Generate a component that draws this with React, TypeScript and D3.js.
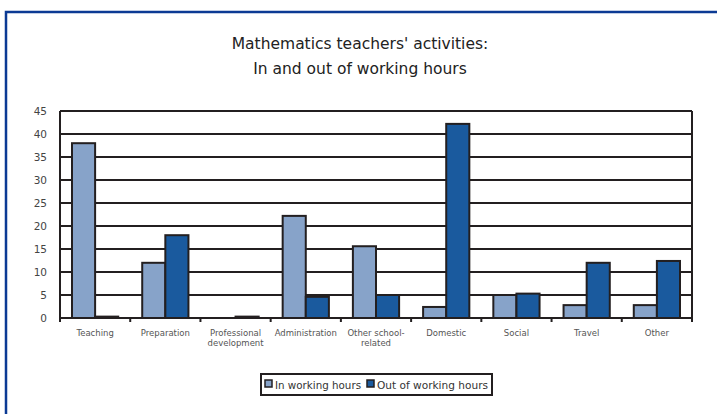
import * as d3 from "d3";
import { useRef, useEffect } from "react";

const categories = [
  ["Teaching"],
  ["Preparation"],
  ["Professional", "development"],
  ["Administration"],
  ["Other school-", "related"],
  ["Domestic"],
  ["Social"],
  ["Travel"],
  ["Other"],
];
const inHours = [38, 12, 0, 22.2, 15.6, 2.4, 5, 2.8, 2.8];
const outHours = [0.3, 18, 0.3, 4.6, 5, 42.2, 5.3, 12, 12.4];
const seriesNames = ["In working hours", "Out of working hours"];
const yTicks = [0, 5, 10, 15, 20, 25, 30, 35, 40, 45];

export default function App() {
  const ref = useRef(null);
  const width = 717;
  const height = 414;
  const colours = ["#87a3c9", "#1a5a9e"];

  useEffect(() => {
    const svg = d3.select(ref.current);
    svg.selectAll("*").remove();

    const left = 60;
    const right = 692;
    const top = 111;
    const bottom = 318;

    // Frame
    svg
      .append("path")
      .attr("d", `M6,${height + 5} V12 H${width + 5}`)
      .attr("fill", "none")
      .attr("stroke", "#0b3a94")
      .attr("stroke-width", 2.5);

    // Title
    const title = svg
      .append("text")
      .attr("text-anchor", "middle")
      .attr("font-family", "'DejaVu Sans', sans-serif")
      .attr("font-size", 15.5)
      .attr("fill", "#222");
    title.append("tspan").attr("x", 360).attr("y", 49).text("Mathematics teachers' activities:");
    title.append("tspan").attr("x", 360).attr("y", 74).text("In and out of working hours");

    // Scales
    const x = d3
      .scaleBand()
      .domain(categories.map((d, i) => String(i)))
      .range([left, right]);
    const pad = 12;
    const xs = d3
      .scaleBand()
      .domain(["0", "1"])
      .range([pad, x.bandwidth() - pad]);
    const y = d3.scaleLinear().domain([0, 45]).range([bottom, top]);

    // Gridlines
    svg
      .append("g")
      .selectAll("line")
      .data(yTicks)
      .join("line")
      .attr("x1", left)
      .attr("x2", right)
      .attr("y1", (d) => y(d))
      .attr("y2", (d) => y(d))
      .attr("stroke", "#231f20")
      .attr("stroke-width", 2);

    // Y labels
    svg
      .append("g")
      .selectAll("text")
      .data(yTicks)
      .join("text")
      .attr("x", 47)
      .attr("y", (d) => y(d) + 4)
      .attr("text-anchor", "end")
      .attr("font-family", "'DejaVu Sans', sans-serif")
      .attr("font-size", 10.5)
      .attr("fill", "#444")
      .text((d) => d);

    // Bars
    const groups = svg
      .append("g")
      .selectAll("g")
      .data(categories.map((c, i) => [inHours[i], outHours[i]]))
      .join("g")
      .attr("transform", (d, i) => `translate(${x(String(i))},0)`);

    groups
      .selectAll("rect")
      .data((d) => d)
      .join("rect")
      .attr("x", (d, i) => xs(String(i)))
      .attr("width", xs.bandwidth())
      .attr("y", (d) => y(d))
      .attr("height", (d) => bottom - y(d))
      .attr("fill", (d, i) => colours[i])
      .attr("stroke", "#231f20")
      .attr("stroke-width", 2);

    // Axes lines
    svg
      .append("line")
      .attr("x1", left)
      .attr("x2", left)
      .attr("y1", top)
      .attr("y2", bottom)
      .attr("stroke", "#231f20")
      .attr("stroke-width", 2);
    svg
      .append("line")
      .attr("x1", right)
      .attr("x2", right)
      .attr("y1", top)
      .attr("y2", bottom + 4)
      .attr("stroke", "#231f20")
      .attr("stroke-width", 2);
    svg
      .append("g")
      .selectAll("line")
      .data(categories.map((d, i) => x(String(i))))
      .join("line")
      .attr("x1", (d) => d)
      .attr("x2", (d) => d)
      .attr("y1", bottom)
      .attr("y2", bottom + 4)
      .attr("stroke", "#231f20")
      .attr("stroke-width", 2);

    // X labels
    const xl = svg
      .append("g")
      .selectAll("text")
      .data(categories)
      .join("text")
      .attr("text-anchor", "middle")
      .attr("font-family", "'DejaVu Sans', sans-serif")
      .attr("font-size", 8.5)
      .attr("fill", "#555");
    xl.selectAll("tspan")
      .data((d, i) => d.map((t) => ({ t, i })))
      .join("tspan")
      .attr("x", (d) => x(String(d.i)) + x.bandwidth() / 2)
      .attr("y", (d, j) => 336 + j * 10)
      .text((d) => d.t);

    // Legend
    const lg = svg.append("g");
    lg.append("rect")
      .attr("x", 261)
      .attr("y", 374)
      .attr("width", 231)
      .attr("height", 21)
      .attr("fill", "#fff")
      .attr("stroke", "#231f20")
      .attr("stroke-width", 2);
    const items = [
      { name: seriesNames[0], sx: 265, tx: 275, len: 86 },
      { name: seriesNames[1], sx: 367, tx: 377, len: 111 },
    ];
    items.forEach((it, i) => {
      lg.append("rect")
        .attr("x", it.sx)
        .attr("y", 380)
        .attr("width", 7)
        .attr("height", 7)
        .attr("fill", colours[i])
        .attr("stroke", "#231f20")
        .attr("stroke-width", 1.5);
      lg.append("text")
        .attr("x", it.tx)
        .attr("y", 389)
        .attr("font-family", "'DejaVu Sans', sans-serif")
        .attr("font-size", 11)
        .attr("textLength", it.len)
        .attr("lengthAdjust", "spacingAndGlyphs")
        .attr("fill", "#333")
        .text(it.name);
    });
  }, []);

  return (
    <svg
      ref={ref}
      width={width}
      height={height}
      viewBox={`0 0 ${width} ${height}`}
      style={{ position: "absolute", left: 0, top: 0, background: "#fff" }}
    ></svg>
  );
}
